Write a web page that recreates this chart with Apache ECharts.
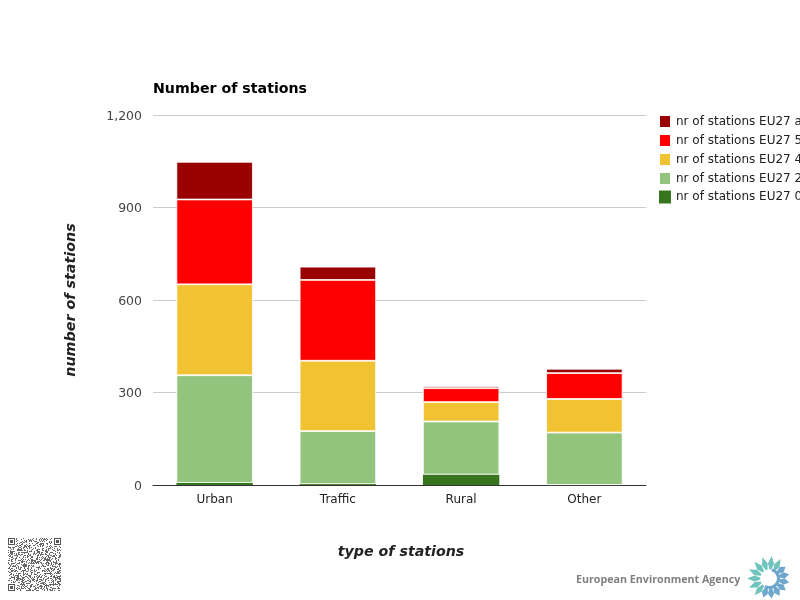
<!DOCTYPE html>
<html><head><meta charset="utf-8">
<style>html,body{margin:0;padding:0;background:#fff}#c{width:800px;height:600px}</style>
<script src="https://cdn.jsdelivr.net/npm/echarts@6/dist/echarts.min.js"></script>
</head><body><div id="c"></div>
<script>
var categories = ['Urban','Traffic','Rural','Other'];
var band0 = [7,3,34,0];
var band1 = [349,172,172,170];
var band2 = [295,228,63,109];
var band3 = [275,262,45,84];
var band4 = [122,43,6,14];
var names = ['nr of stations EU27 0 - 20','nr of stations EU27 20 - 40','nr of stations EU27 40 - 50','nr of stations EU27 50 - 75','nr of stations EU27 above 75'];
var colors = ['#38761d','#93c47d','#f1c232','#ff0000','#990000'];
var yTicks = {min:0,max:1200,interval:300};
var font = 'DejaVu Sans';

// decorative QR code bitmap
function qr(){
  var n=53,cv=document.createElement('canvas');cv.width=cv.height=n;var g=cv.getContext('2d');
  g.fillStyle='#fff';g.fillRect(0,0,n,n);g.fillStyle='#666';
  var s=0x2f6e2b1;
  for(var y=0;y<n;y++)for(var x=0;x<n;x++){
    s^=s<<13;s^=s>>>17;s^=s<<5;
    if((s&7)<3)g.fillRect(x,y,1,1);
  }
  [[0,0],[n-7,0],[0,n-7]].forEach(function(p){
    g.fillStyle='#fff';g.fillRect(p[0]-1,p[1]-1,9,9);
    g.fillStyle='#555';g.fillRect(p[0],p[1],7,7);
    g.fillStyle='#fff';g.fillRect(p[0]+1,p[1]+1,5,5);
    g.fillStyle='#555';g.fillRect(p[0]+2,p[1]+2,3,3);
  });
  return cv;
}
// decorative agency emblem
function logo(){
  var k=[],cx=769.5,cy=578.5,i;
  var teal='#6fc3bd',blue='#6fa6cc';
  for(i=0;i<15;i++){
    var a=(i/15)*Math.PI*2-Math.PI/2+0.1;
    var col=(a>-Math.PI*0.3&&a<Math.PI*0.62)?blue:teal;
    var r0=9,r1=col==blue?20:22.5,w=col==blue?3.2:3,c=Math.cos(a),s=Math.sin(a),px=-s,py=c;
    k.push({type:'polygon',silent:true,shape:{points:[
      [cx+c*r0-px*w*.3,cy+s*r0-py*w*.3],[cx+c*(r0+6)-px*w,cy+s*(r0+6)-py*w],[cx+c*r1,cy+s*r1],
      [cx+c*(r0+6)+px*w,cy+s*(r0+6)+py*w],[cx+c*r0+px*w*.3,cy+s*r0+py*w*.3]]},style:{fill:col}});
  }
  k.push({type:'circle',silent:true,shape:{cx:cx,cy:cy,r:9},style:{fill:'#fff'}});
  k.push({type:'arc',silent:true,shape:{cx:cx,cy:cy,r:9,startAngle:-1.3,endAngle:2.1},style:{stroke:blue,lineWidth:3,fill:null}});
  return k;
}
var chart = echarts.init(document.getElementById('c'),null,{renderer:'canvas'});
var data=[band0,band1,band2,band3,band4];
chart.setOption({
  animation:false,
  backgroundColor:'#fff',
  title:{text:'Number of stations',left:148,top:77.5,textStyle:{fontFamily:font,fontSize:14.2,fontWeight:'bold',color:'#000'}},
  legend:{orient:'vertical',left:653,top:109,itemWidth:12,itemHeight:13,itemGap:4,icon:'rect',
    width:500,
    data:names.slice().reverse(),
    textStyle:{fontFamily:font,fontSize:12,lineHeight:14,color:'#222',overflow:'none',width:300}},
  grid:{left:153,right:154,top:115,bottom:115},
  xAxis:{type:'category',data:categories,
    name:'type of stations',nameLocation:'middle',nameGap:60,
    nameTextStyle:{fontFamily:font,fontSize:14.2,fontWeight:'bold',fontStyle:'italic',color:'#222',padding:[0,0,0,3]},
    axisTick:{show:false},axisLine:{lineStyle:{color:'#333',width:1}},
    axisLabel:{fontFamily:font,fontSize:12,color:'#222',margin:9}},
  yAxis:{type:'value',min:yTicks.min,max:yTicks.max,interval:yTicks.interval,
    name:'number of stations',nameLocation:'middle',nameGap:75,
    nameTextStyle:{fontFamily:font,fontSize:14.3,fontWeight:'bold',fontStyle:'italic',color:'#222'},
    axisLine:{show:false},axisTick:{show:false},
    splitLine:{lineStyle:{color:'#ccc',width:1}},
    axisLabel:{fontFamily:font,fontSize:12.5,color:'#444',margin:11,verticalAlign:'top',lineHeight:3,formatter:function(v){return v>=1000?echarts.format.addCommas(v):v;}}},
  series:data.map(function(d,i){return {type:'bar',name:names[i],stack:'s',data:d,barWidth:76.4,
    itemStyle:{color:colors[i],borderColor:'#fff',borderWidth:i==0?0:0.8},emphasis:{disabled:true}};}),
  graphic:[
    {type:'image',silent:true,left:8,top:538,style:{image:qr(),width:53,height:53}},
    {type:'text',silent:true,left:576,top:574,style:{text:'European Environment Agency',font:'bold 10.7px "Open Sans"',fill:'#808080'}}
  ].concat(logo())
});
</script></body></html>
